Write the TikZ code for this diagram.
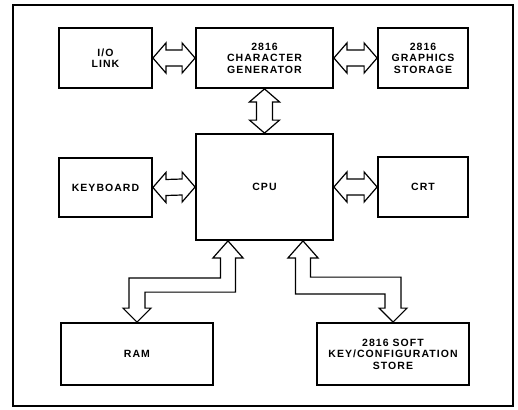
\documentclass[tikz,border=0pt]{standalone}
\usepackage{fontspec}
\setmainfont{Liberation Sans}[LetterSpace=10]
\usetikzlibrary{calc}
\begin{document}
\begin{tikzpicture}[x=1pt,y=1pt,
  box/.style={draw,line width=1.8pt,inner sep=0pt,align=center,
    font=\bfseries\fontsize{10.5}{11.5}\selectfont},
  arr/.style={draw,line width=1.2pt,line join=miter,fill=white}]
\useasboundingbox (0,0) rectangle (518,-409);
\draw[line width=1.8pt] (13,-5) rectangle (513,-406);
\node[box,minimum width=93pt,minimum height=60pt] (io) at (105.5,-58) {I/O\\LINK};
\node[box,minimum width=137pt,minimum height=60pt] (cg) at (264.5,-58) {2816\\CHARACTER\\GENERATOR};
\node[box,minimum width=90pt,minimum height=60pt] (gs) at (423,-58) {2816\\GRAPHICS\\STORAGE};
\node[box,minimum width=93pt,minimum height=59pt] (kb) at (105.5,-187.5) {KEYBOARD};
\node[box,minimum width=137pt,minimum height=106pt] (cpu) at (264.5,-187) {CPU};
\node[box,minimum width=90pt,minimum height=60pt] (crt) at (423,-187) {CRT};
\node[box,minimum width=152pt,minimum height=62pt] (ram) at (137,-354) {RAM};
\node[box,minimum width=152pt,minimum height=62pt] (sk) at (393,-354) {2816 SOFT\\KEY/CONFIGURATION\\STORE};
% horizontal double arrows
\foreach \a/\b in {io/cg,cg/gs,kb/cpu,cpu/crt}{
  \draw[arr] (\a.east) -- ($(\a.east)+(13,15)$) -- ($(\a.east)+(13,8)$) -- ($(\b.west)+(-13,8)$)
    -- ($(\b.west)+(-13,15)$) -- (\b.west) -- ($(\b.west)+(-13,-15)$) -- ($(\b.west)+(-13,-8)$)
    -- ($(\a.east)+(13,-8)$) -- ($(\a.east)+(13,-15)$) -- cycle;
}
% vertical double arrow
\draw[arr] (cg.south) -- ($(cg.south)+(15,-13)$) -- ($(cg.south)+(8,-13)$) -- ($(cpu.north)+(8,13)$)
  -- ($(cpu.north)+(15,13)$) -- (cpu.north) -- ($(cpu.north)+(-15,13)$) -- ($(cpu.north)+(-8,13)$)
  -- ($(cg.south)+(-8,-13)$) -- ($(cg.south)+(-15,-13)$) -- cycle;
% bent arrows
\coordinate (t1) at ($(cpu.south)+(-36.5,0)$);
\coordinate (t3) at ($(cpu.south)+(38.5,0)$);
\draw[arr] (t1) -- ++(15,-17) -- ++(-7.5,0) |- ($(ram.north)+(8,30)$) -- ($(ram.north)+(8,14)$)
  -- ++(6,0) -- (ram.north) -- ++(-14,14) -- ++(6,0) |- ($(t1)+(-7.5,-37)$) -- ++(0,20) -- ++(-7.5,0) -- cycle;
\draw[arr] (t3) -- ++(15,-17) -- ++(-7.5,0) |- ($(sk.north)+(8,45)$) -- ($(sk.north)+(8,14)$)
  -- ++(6,0) -- (sk.north) -- ++(-14,14) -- ++(6,0) |- ($(t3)+(-7.5,-53)$) -- ++(0,36) -- ++(-7.5,0) -- cycle;
\end{tikzpicture}
\end{document}
